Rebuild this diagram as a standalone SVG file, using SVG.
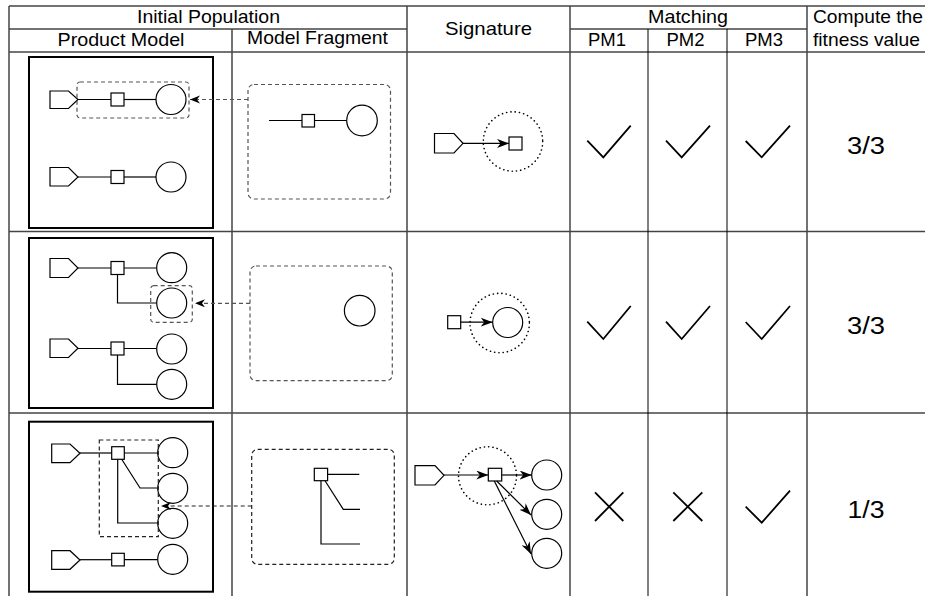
<svg xmlns="http://www.w3.org/2000/svg" width="925" height="596" viewBox="0 0 925 596">
  <style>
    .grid { stroke: #444; stroke-width: 1.5; fill: none; }
    .thin { stroke: #000; stroke-width: 1; fill: none; }
    .hd { font-family: "Liberation Sans", Arial, sans-serif; font-size: 18.5px; fill: #000; }
    .val { font-family: "Liberation Sans", Arial, sans-serif; font-size: 23px; fill: #000; text-anchor: middle; }
    .pm { fill: #fff; stroke: #000; stroke-width: 2; }
    .sh { fill: #fff; stroke: #000; stroke-width: 1.2; }
    .ln { fill: none; stroke: #000; stroke-width: 1.2; }
    .sel { fill: none; stroke: #555; stroke-width: 1.2; stroke-dasharray: 4 3; }
    .sel3 { fill: none; stroke: #222; stroke-width: 1.2; stroke-dasharray: 4 3; }
    .ptr { fill: none; stroke: #555; stroke-width: 1.2; stroke-dasharray: 4 3; marker-end: url(#small); }
    .ptr3 { fill: none; stroke: #222; stroke-width: 1.2; stroke-dasharray: 4 3; marker-end: url(#small); }
    .sig { fill: none; stroke: #000; stroke-width: 1.2; marker-end: url(#big); }
    .dot { fill: none; stroke: #000; stroke-width: 1.6; stroke-dasharray: 0.1 4.2; stroke-linecap: round; }
    .mark { fill: none; stroke: #000; stroke-width: 1.8; }
  </style>
  <defs>
    <marker id="big" markerUnits="userSpaceOnUse" markerWidth="14" markerHeight="10" refX="12" refY="4.5" orient="auto">
      <path d="M0,0 L12,4.5 L0,9 L3.5,4.5 z" fill="#000"/>
    </marker>
    <marker id="small" markerUnits="userSpaceOnUse" markerWidth="12" markerHeight="9" refX="10" refY="4" orient="auto">
      <path d="M0,0 L10,4 L0,8 L3,4 z" fill="#000"/>
    </marker>
  </defs>

  <rect width="925" height="596" fill="#fff"/>

  <!-- table grid -->
  <g id="table">
    <line class="grid" x1="9" y1="6" x2="925" y2="6"/>
    <line class="grid" x1="9" y1="29" x2="407" y2="29"/>
    <line class="grid" x1="570" y1="29" x2="807" y2="29"/>
    <line class="grid" x1="9" y1="52" x2="925" y2="52"/>
    <line class="grid" x1="9" y1="231.5" x2="925" y2="231.5"/>
    <line class="grid" x1="9" y1="413" x2="925" y2="413"/>
    <line class="grid" x1="9" y1="6" x2="9" y2="596"/>
    <line class="grid" x1="232" y1="29" x2="232" y2="596"/>
    <line class="grid" x1="407" y1="6" x2="407" y2="596"/>
    <line class="grid" x1="570" y1="6" x2="570" y2="596"/>
    <line class="thin" x1="648" y1="29" x2="648" y2="596"/>
    <line class="thin" x1="727" y1="29" x2="727" y2="596"/>
    <line class="grid" x1="807" y1="6" x2="807" y2="596"/>
  </g>

  <!-- headers -->
  <g id="headers">
    <text class="hd" x="208.5" y="23" text-anchor="middle" textLength="143" lengthAdjust="spacingAndGlyphs">Initial Population</text>
    <text class="hd" x="121" y="46" text-anchor="middle" textLength="127" lengthAdjust="spacingAndGlyphs">Product Model</text>
    <text class="hd" x="317.5" y="43.5" text-anchor="middle" textLength="141" lengthAdjust="spacingAndGlyphs">Model Fragment</text>
    <text class="hd" x="488.5" y="35" text-anchor="middle" textLength="87" lengthAdjust="spacingAndGlyphs">Signature</text>
    <text class="hd" x="688" y="23" text-anchor="middle" textLength="80" lengthAdjust="spacingAndGlyphs">Matching</text>
    <text class="hd" x="607" y="45.5" text-anchor="middle">PM1</text>
    <text class="hd" x="685.5" y="45.5" text-anchor="middle">PM2</text>
    <text class="hd" x="764" y="45.5" text-anchor="middle">PM3</text>
    <text class="hd" x="813" y="23" textLength="110" lengthAdjust="spacingAndGlyphs">Compute the</text>
    <text class="hd" x="813" y="45.5" textLength="107" lengthAdjust="spacingAndGlyphs">fitness value</text>
  </g>

  <!-- row 1 -->
  <g id="pm-row1">
    <rect class="pm" x="29" y="57" width="184" height="171"/>
    <path class="sh" d="M50,91 H68.5 L78,99.5 L68.5,108.5 H50 Z"/>
    <line class="ln" x1="78" y1="99.5" x2="111" y2="99.5"/>
    <rect class="sh" x="111" y="93" width="13" height="13"/>
    <line class="ln" x1="124" y1="99.5" x2="156" y2="99.5"/>
    <circle class="sh" cx="171" cy="99.5" r="15"/>
    <rect class="sel" x="77" y="82" width="112" height="36" rx="3"/>
    <path class="sh" d="M50,167.5 H68.5 L78,177 L68.5,186 H50 Z"/>
    <line class="ln" x1="78" y1="177" x2="111" y2="177"/>
    <rect class="sh" x="111" y="170.5" width="13" height="13"/>
    <line class="ln" x1="124" y1="177" x2="156" y2="177"/>
    <circle class="sh" cx="171" cy="177" r="15"/>
  </g>
  <g id="mf-row1">
    <rect class="sel" x="248" y="84.5" width="142.5" height="114.5" rx="6"/>
    <line class="ln" x1="269" y1="120.5" x2="302" y2="120.5"/>
    <rect class="sh" x="302" y="114.5" width="12.5" height="12.5"/>
    <line class="ln" x1="314.5" y1="120.5" x2="347" y2="120.5"/>
    <circle class="sh" cx="362" cy="120.5" r="15.3"/>
  </g>
  <g id="sig-row1">
    <circle class="dot" cx="513" cy="141.5" r="29.7"/>
    <path class="sh" d="M434.5,133.5 H454 L463,143.3 L454,153 H434.5 Z"/>
    <rect class="sh" x="509" y="137" width="13" height="13"/>
  </g>
  <g id="match-row1">
    <polyline class="mark" points="587.3,140.7 603.3,157.3 630.7,125.7"/>
    <polyline class="mark" points="666,140.7 681.7,157.3 710,125.7"/>
    <polyline class="mark" points="745.7,141 761.7,157.3 790,125.7"/>
    <text class="val" x="866" y="153.5" textLength="38" lengthAdjust="spacingAndGlyphs">3/3</text>
  </g>

  <!-- row 2 -->
  <g id="pm-row2">
    <rect class="pm" x="29" y="238" width="184" height="170"/>
    <path class="sh" d="M50,258.5 H68.5 L78,268 L68.5,277.5 H50 Z"/>
    <line class="ln" x1="78" y1="268" x2="111" y2="268"/>
    <rect class="sh" x="111" y="261.5" width="13" height="13"/>
    <line class="ln" x1="124" y1="268" x2="156.7" y2="268"/>
    <circle class="sh" cx="171.7" cy="267.7" r="15"/>
    <path class="ln" d="M117.5,274.5 V303 H156.7"/>
    <circle class="sh" cx="171.7" cy="303" r="15"/>
    <rect class="sel" x="150.7" y="285.7" width="41.6" height="36.6" rx="3"/>
    <path class="sh" d="M50,339 H68.5 L78,348.3 L68.5,357.5 H50 Z"/>
    <line class="ln" x1="78" y1="348.5" x2="111" y2="348.5"/>
    <rect class="sh" x="111" y="342" width="13" height="13"/>
    <line class="ln" x1="124" y1="348.5" x2="156.7" y2="348.5"/>
    <circle class="sh" cx="171.7" cy="349" r="15"/>
    <path class="ln" d="M117.5,355 V384.3 H156.7"/>
    <circle class="sh" cx="171.7" cy="384.3" r="15"/>
  </g>
  <g id="mf-row2">
    <rect class="sel" x="250" y="266" width="142.3" height="114.7" rx="6"/>
    <circle class="sh" cx="359.7" cy="310.7" r="15.3"/>
  </g>
  <g id="sig-row2">
    <circle class="dot" cx="499.7" cy="323" r="29.7"/>
    <rect class="sh" x="447.7" y="315.7" width="13" height="13"/>
    <circle class="sh" cx="507.7" cy="322.5" r="15"/>
  </g>
  <g id="match-row2">
    <polyline class="mark" points="587.3,321.7 603.3,339 630.7,306"/>
    <polyline class="mark" points="666,321.7 681.7,339 710,306"/>
    <polyline class="mark" points="745.7,322 761.7,339 790,306"/>
    <text class="val" x="866" y="334" textLength="38" lengthAdjust="spacingAndGlyphs">3/3</text>
  </g>

  <!-- row 3 -->
  <g id="pm-row3">
    <rect class="pm" x="29" y="421.7" width="184" height="170"/>
    <path class="sh" d="M51.7,444 H70 L80,453.3 L70,462.7 H51.7 Z"/>
    <line class="ln" x1="80" y1="453" x2="111.7" y2="453"/>
    <rect class="sh" x="111.7" y="446.7" width="12.6" height="12.6"/>
    <line class="ln" x1="124.3" y1="453" x2="157.7" y2="453"/>
    <circle class="sh" cx="172.7" cy="452.7" r="15"/>
    <path class="ln" d="M121.7,459.3 L140,488 H157.7"/>
    <circle class="sh" cx="172.7" cy="488.3" r="15"/>
    <path class="ln" d="M117.7,459.3 V523 H157.7"/>
    <circle class="sh" cx="172.7" cy="523.3" r="15"/>
    <rect class="sel3" x="99.3" y="440" width="59" height="96.7"/>
    <path class="sh" d="M51.7,550.7 H70 L80,560 L70,569.3 H51.7 Z"/>
    <line class="ln" x1="80" y1="559.7" x2="111.7" y2="559.7"/>
    <rect class="sh" x="111.7" y="553.3" width="12.6" height="12.6"/>
    <line class="ln" x1="124.3" y1="559.7" x2="157.7" y2="559.7"/>
    <circle class="sh" cx="172.7" cy="559.3" r="15"/>
  </g>
  <g id="mf-row3">
    <rect class="sel3" x="251.7" y="449.3" width="142.6" height="115" rx="6"/>
    <rect class="sh" x="314.3" y="468.3" width="13.3" height="12.4"/>
    <line class="ln" x1="327.6" y1="474.3" x2="359.3" y2="474.3"/>
    <path class="ln" d="M325,480.7 L343.3,509.3 H360"/>
    <path class="ln" d="M321,480.7 V544 H360"/>
  </g>
  <g id="sig-row3">
    <circle class="dot" cx="487.5" cy="475.8" r="29"/>
    <path class="sh" d="M415,465.7 H435 L444,475.3 L435,485 H415 Z"/>
    <rect class="sh" x="488.3" y="468.3" width="13.4" height="12.7"/>
    <circle class="sh" cx="546.7" cy="475" r="15"/>
    <circle class="sh" cx="546.7" cy="514.3" r="15"/>
    <circle class="sh" cx="546.7" cy="553.3" r="15"/>
  </g>
  <g id="match-row3">
    <line class="mark" x1="595" y1="492.3" x2="623.3" y2="521"/>
    <line class="mark" x1="623.3" y1="492.3" x2="595" y2="521"/>
    <line class="mark" x1="673.3" y1="492.3" x2="702.3" y2="521"/>
    <line class="mark" x1="702.3" y1="492.3" x2="673.3" y2="521"/>
    <polyline class="mark" points="745.7,506.7 761.7,522.7 790,490.7"/>
    <text class="val" x="866" y="518.3" textLength="37" lengthAdjust="spacingAndGlyphs">1/3</text>
  </g>

  <!-- connectors -->
  <g id="connectors">
    <line class="ptr" x1="248" y1="99.5" x2="190" y2="99.5"/>
    <line class="ptr" x1="250" y1="303.3" x2="195" y2="303.3"/>
    <line class="ptr3" x1="251.7" y1="506" x2="161" y2="506"/>
    <line class="sig" x1="463" y1="143.4" x2="509" y2="143.4"/>
    <line class="sig" x1="460.7" y1="322.2" x2="492.7" y2="322.2"/>
    <line class="sig" x1="444" y1="475" x2="488.3" y2="475"/>
    <line class="sig" x1="501.7" y1="475" x2="531.7" y2="475"/>
    <line class="sig" x1="496.7" y1="481" x2="531" y2="515"/>
    <line class="sig" x1="494.3" y1="481" x2="531" y2="554"/>
  </g>
</svg>
